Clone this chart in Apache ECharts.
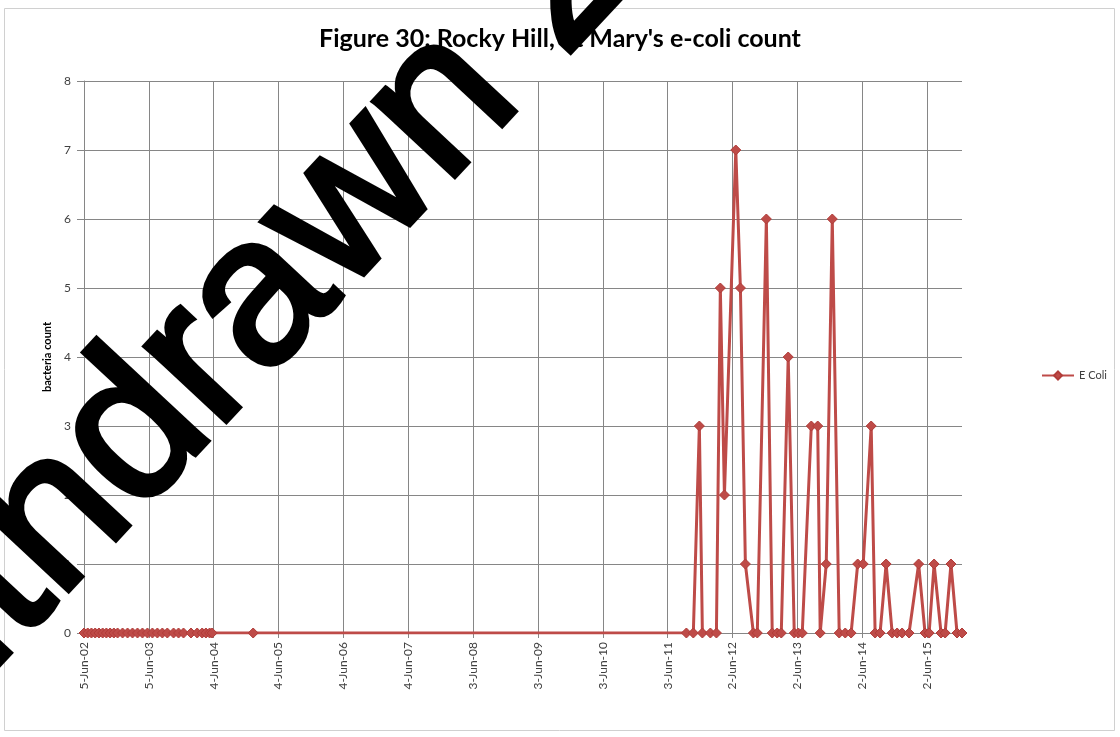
<!DOCTYPE html>
<html>
<head>
<meta charset="utf-8">
<script src="https://cdn.jsdelivr.net/npm/echarts@6/dist/echarts.min.js"></script>
<style>
  html, body { margin: 0; padding: 0; background: #fff; }
  #chart { width: 1120px; height: 737px; }
</style>
</head>
<body>
<div id="chart"></div>
<script>
// sample dates and e-coli counts
const sampleDates = [
  '2002-06-05', '2002-06-26', '2002-07-17', '2002-08-07', '2002-08-28', '2002-09-18',
  '2002-10-09', '2002-10-30', '2002-11-20', '2002-12-11', '2003-01-08', '2003-02-05',
  '2003-03-05', '2003-04-02', '2003-04-30', '2003-05-28', '2003-06-25', '2003-07-23',
  '2003-08-20', '2003-09-17', '2003-10-22', '2003-11-19', '2003-12-17', '2004-01-28',
  '2004-03-03', '2004-03-31', '2004-04-21', '2004-05-12', '2004-05-26', '2005-01-12',
  '2011-09-16', '2011-10-25', '2011-11-28', '2011-12-15', '2012-01-29', '2012-03-03',
  '2012-03-25', '2012-04-17', '2012-06-20', '2012-07-16', '2012-08-13', '2012-09-27',
  '2012-10-19', '2012-12-09', '2013-01-11', '2013-02-08', '2013-03-03', '2013-04-11',
  '2013-05-15', '2013-06-07', '2013-06-29', '2013-08-19', '2013-09-24', '2013-10-08',
  '2013-11-11', '2013-12-15', '2014-01-23', '2014-02-26', '2014-03-31', '2014-05-07',
  '2014-06-07', '2014-07-22', '2014-08-13', '2014-09-10', '2014-10-14', '2014-11-17',
  '2014-12-15', '2015-01-12', '2015-02-20', '2015-04-15', '2015-05-21', '2015-06-13',
  '2015-07-11', '2015-08-19', '2015-09-11', '2015-10-14', '2015-11-17', '2015-12-15'
]
const ecoliCounts = [
  0, 0, 0, 0, 0, 0,
  0, 0, 0, 0, 0, 0,
  0, 0, 0, 0, 0, 0,
  0, 0, 0, 0, 0, 0,
  0, 0, 0, 0, 0, 0,
  0, 0, 3, 0, 0, 0,
  5, 2, 7, 5, 1, 0,
  0, 6, 0, 0, 0, 4,
  0, 0, 0, 3, 3, 0,
  1, 6, 0, 0, 0, 1,
  1, 3, 0, 0, 1, 0,
  0, 0, 0, 1, 0, 0,
  1, 0, 0, 1, 0, 0
]
const yTicks = [0, 1, 2, 3, 4, 5, 6, 7, 8]

const MONTHS = ['Jan', 'Feb', 'Mar', 'Apr', 'May', 'Jun', 'Jul', 'Aug', 'Sep', 'Oct', 'Nov', 'Dec']
const DAY = 86400000
const origin = Date.UTC(2002, 5, 5)

// x axis counts days from 5-Jun-02, so ticks every 365 days land on the Excel dates
function dayOf(s) {
  const p = s.split('-').map(Number)
  return Math.round((Date.UTC(p[0], p[1] - 1, p[2]) - origin) / DAY)
}
function dayLabel(v) {
  const d = new Date(origin + v * DAY)
  return d.getUTCDate() + '-' + MONTHS[d.getUTCMonth()] + '-' + String(d.getUTCFullYear()).slice(2)
}

const points = sampleDates.map((s, i) => [dayOf(s), ecoliCounts[i]])
const lastDay = points[points.length - 1][0]

const labelFont = 'Lato, "Noto Sans", sans-serif'
const gridColor = '#868686'

const chart = echarts.init(document.getElementById('chart'))
chart.setOption({
  backgroundColor: '#fff',
  animation: false,
  title: {
    text: "Figure 30: Rocky Hill, St Mary's e-coli count",
    left: 'center',
    top: 21,
    textStyle: { fontFamily: labelFont, fontWeight: 'bold', fontSize: 25, color: '#000' }
  },
  legend: {
    left: 1036,
    top: 365,
    itemWidth: 32,
    itemHeight: 10,
    itemGap: 4,
    textStyle: { fontFamily: labelFont, fontSize: 11, color: '#404040' },
    data: ['E Coli']
  },
  grid: { left: 84, right: 158, top: 81, bottom: 104 },
  xAxis: {
    type: 'value',
    min: 0,
    max: lastDay,
    interval: 365,
    axisLine: { show: true, lineStyle: { color: gridColor, width: 1 } },
    axisTick: { show: true, length: 5, lineStyle: { color: gridColor } },
    splitLine: { show: true, showMaxLine: false, lineStyle: { color: gridColor, width: 1 } },
    axisLabel: {
      rotate: 90,
      margin: 9,
      showMaxLabel: false,
      color: '#404040',
      fontFamily: labelFont,
      fontSize: 12,
      formatter: v => (v % 365 === 0 ? dayLabel(v) : '')
    }
  },
  yAxis: {
    type: 'value',
    min: yTicks[0],
    max: yTicks[yTicks.length - 1],
    interval: 1,
    name: 'bacteria count',
    nameLocation: 'middle',
    nameGap: 31,
    nameTextStyle: { fontFamily: labelFont, fontWeight: 'bold', fontSize: 11, color: '#000' },
    axisLine: { show: true, lineStyle: { color: gridColor, width: 1 } },
    axisTick: { show: true, length: 7, lineStyle: { color: gridColor } },
    splitLine: { show: true, lineStyle: { color: gridColor, width: 1 } },
    axisLabel: { margin: 13, color: '#404040', fontFamily: labelFont, fontSize: 12 }
  },
  series: [{
    name: 'E Coli',
    type: 'line',
    data: points,
    symbol: 'diamond',
    symbolSize: 10,
    showAllSymbol: true,
    lineStyle: { color: '#BE4B48', width: 3 },
    itemStyle: { color: '#BE4B48', borderColor: '#B13C39', borderWidth: 1 },
    z: 3
  }],
  graphic: [
    {
      type: 'rect',
      shape: { x: 4.5, y: 8.5, width: 1110, height: 722 },
      style: { fill: 'none', stroke: '#d0d0d0', lineWidth: 1 },
      z: -1
    },
    {
      // the "Withdrawn" stamp over the figure
      type: 'text',
      x: -112,
      y: 852,
      rotation: 47 * Math.PI / 180,
      style: {
        text: 'Withdrawn 2016',
        font: '208px "Liberation Sans", Arial, sans-serif',
        fill: '#000',
        stroke: '#000',
        lineWidth: 6,
        textAlign: 'left',
        textVerticalAlign: 'bottom'
      },
      z: 100
    }
  ]
})
</script>
</body>
</html>
